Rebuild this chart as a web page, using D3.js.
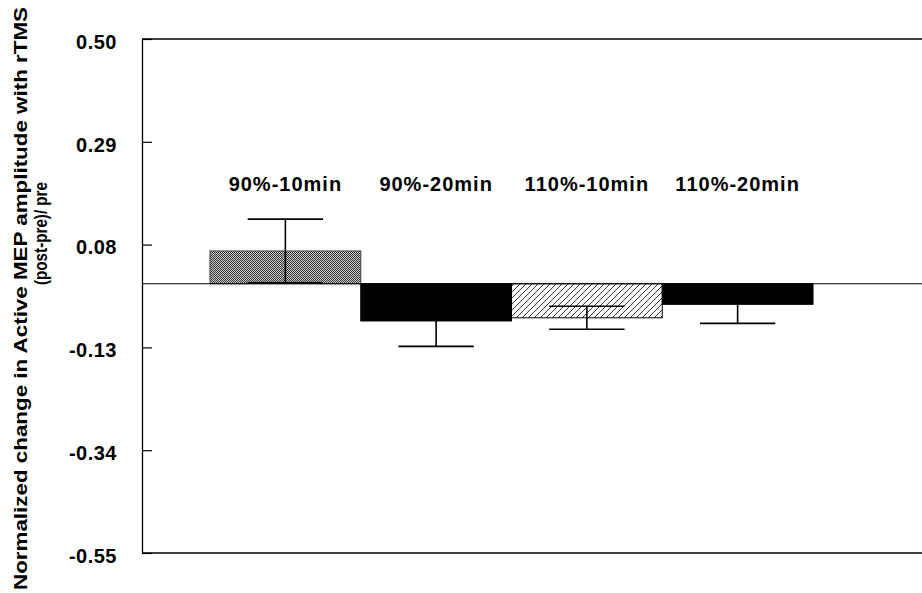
<!DOCTYPE html>
<html>
<head>
<meta charset="utf-8">
<script src="https://cdn.jsdelivr.net/npm/d3@7/dist/d3.min.js"></script>
<style>
  html, body { margin: 0; padding: 0; background: #fff; }
  svg { display: block; font-family: "Liberation Sans", Arial, sans-serif; }
</style>
</head>
<body>
<svg id="chart" width="922" height="593"></svg>
<script>
// Conditions (rTMS intensity - duration)
const conditions = ["90%-10min", "90%-20min", "110%-10min", "110%-20min"];
// Mean normalized change in active MEP amplitude, (post-pre)/pre
const meanChange = [0.067, -0.076, -0.0695, -0.042];
// Standard error of the mean
const stdError = [0.065, 0.052, 0.0235, 0.039];
// Bar fill style per condition
const fillStyle = ["dots", "solid", "hatch", "solid"];
// Y axis tick values
const yTicks = [0.50, 0.29, 0.08, -0.13, -0.34, -0.55];

const svg = d3.select("#chart");
const W = 922, H = 593;
const plot = { left: 142, top: 39, bottom: 553, right: W };
const FONT = "'Liberation Sans', Arial, sans-serif";

const y = d3.scaleLinear().domain([-0.55, 0.50]).range([plot.bottom, plot.top]);
const x = d3.scaleBand().domain(conditions).range([210, 813]).paddingInner(0).paddingOuter(0);

// Fill patterns
const defs = svg.append("defs");
const dots = defs.append("pattern").attr("id", "pDots")
  .attr("patternUnits", "userSpaceOnUse").attr("width", 2).attr("height", 2);
dots.append("rect").attr("width", 2).attr("height", 2).attr("fill", "#c4c4c4");
dots.append("rect").attr("width", 1).attr("height", 1).attr("fill", "#3a3a3a");
dots.append("rect").attr("x", 1).attr("y", 1).attr("width", 1).attr("height", 1).attr("fill", "#3a3a3a");

const hatch = defs.append("pattern").attr("id", "pHatch")
  .attr("patternUnits", "userSpaceOnUse").attr("width", 6).attr("height", 6);
hatch.append("rect").attr("width", 6).attr("height", 6).attr("fill", "#fff");
hatch.append("path").attr("d", "M-1,7 L7,-1 M-4,4 L4,-4 M2,10 L10,2")
  .attr("stroke", "#222").attr("stroke-width", 0.9);

const fillFor = s => s === "dots" ? "url(#pDots)" : s === "hatch" ? "url(#pHatch)" : "#000";

// Plot frame: top and bottom lines
svg.append("line").attr("x1", plot.left).attr("x2", plot.right)
  .attr("y1", y(0.50)).attr("y2", y(0.50)).attr("stroke", "#000").attr("stroke-width", 1.3);
svg.append("line").attr("x1", plot.left).attr("x2", plot.right)
  .attr("y1", y(-0.55)).attr("y2", y(-0.55)).attr("stroke", "#000").attr("stroke-width", 1.3);

// Bars
const data = conditions.map((c, i) => ({ c, m: meanChange[i], e: stdError[i], s: fillStyle[i] }));
svg.append("g").selectAll("rect").data(data).join("rect")
  .attr("x", d => x(d.c))
  .attr("width", x.bandwidth())
  .attr("y", d => y(Math.max(0, d.m)))
  .attr("height", d => Math.abs(y(d.m) - y(0)))
  .attr("fill", d => fillFor(d.s))
  .attr("stroke", d => d.s === "dots" ? "#444" : "#000")
  .attr("stroke-width", 1);

// Error bars (mean ± SE, caps half the bar width)
const eb = svg.append("g").attr("stroke", "#000").attr("stroke-width", 1.6);
data.forEach(d => {
  const cx = x(d.c) + x.bandwidth() / 2;
  const half = x.bandwidth() / 4;
  eb.append("line").attr("x1", cx).attr("x2", cx).attr("y1", y(d.m + d.e)).attr("y2", y(d.m - d.e));
  eb.append("line").attr("x1", cx - half).attr("x2", cx + half).attr("y1", y(d.m + d.e)).attr("y2", y(d.m + d.e));
  eb.append("line").attr("x1", cx - half).attr("x2", cx + half).attr("y1", y(d.m - d.e)).attr("y2", y(d.m - d.e));
});

// Zero line
svg.append("line").attr("x1", plot.left).attr("x2", plot.right)
  .attr("y1", y(0)).attr("y2", y(0)).attr("stroke", "#000").attr("stroke-width", 1.2);

// Y axis with inward ticks
const yAxis = d3.axisLeft(y).tickValues(yTicks).tickSizeInner(-10).tickSizeOuter(0)
  .tickFormat(d => d.toFixed(2));
const ga = svg.append("g").attr("transform", `translate(${plot.left},0)`).call(yAxis);
ga.attr("font-family", null).attr("font-size", null);
ga.select(".domain").attr("stroke", "#000").attr("stroke-width", 1.3);
ga.selectAll(".tick line").attr("stroke", "#000").attr("stroke-width", 1.2);
ga.selectAll(".tick text")
  .attr("x", -25).attr("dy", "0.46em")
  .attr("fill", "#000")
  .style("font-family", FONT)
  .style("font-size", "20px").style("font-weight", "bold").style("letter-spacing", "0.5px");

// Condition labels
svg.append("g").selectAll("text").data(conditions).join("text")
  .attr("x", d => x(d) + x.bandwidth() / 2)
  .attr("y", 191)
  .attr("text-anchor", "middle")
  .style("font-family", FONT)
  .style("font-size", "20px").style("font-weight", "bold").style("letter-spacing", "1px")
  .text(d => d);

// Y axis title (two lines)
svg.append("text")
  .attr("transform", "translate(27,298.5) rotate(-90)")
  .attr("text-anchor", "middle")
  .attr("textLength", 583).attr("lengthAdjust", "spacingAndGlyphs")
  .style("font-family", FONT)
  .style("font-size", "18px").style("font-weight", "bold")
  .text("Normalized change in Active MEP amplitude with rTMS");
svg.append("text")
  .attr("transform", "translate(46.5,233.5) rotate(-90)")
  .attr("text-anchor", "middle")
  .attr("textLength", 103).attr("lengthAdjust", "spacingAndGlyphs")
  .style("font-family", FONT)
  .style("font-size", "18px").style("font-weight", "bold")
  .text("(post-pre)/ pre");
</script>
</body>
</html>
